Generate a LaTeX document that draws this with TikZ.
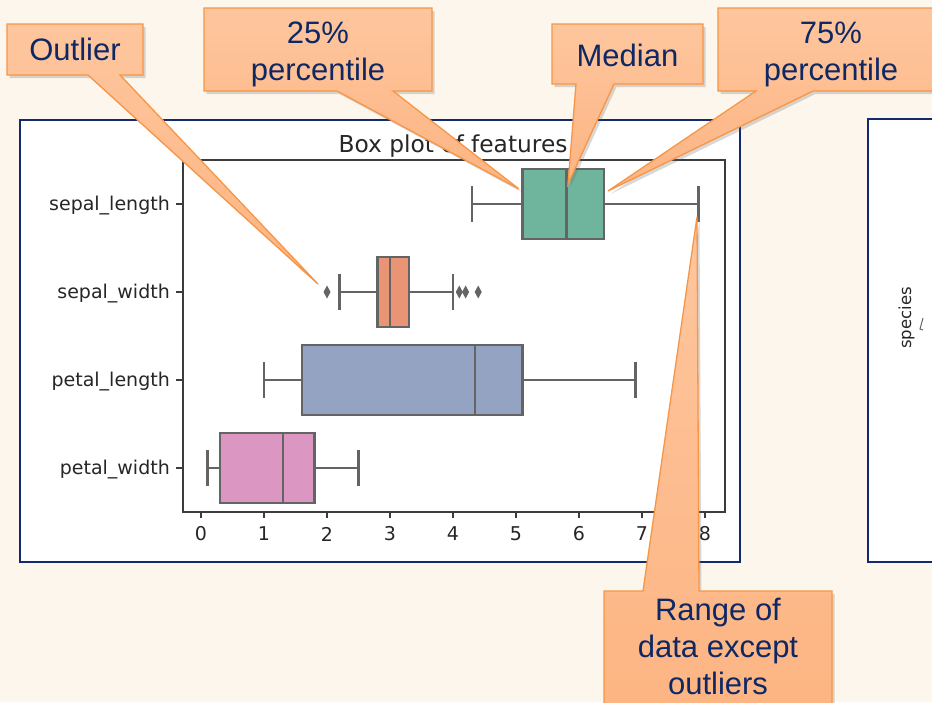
\documentclass[tikz,border=0pt]{standalone}
\usepackage{fontspec}
\setmainfont{Liberation Sans}
\newfontfamily\plotfont{DejaVu Sans}
\usetikzlibrary{shadows}
\definecolor{cream}{RGB}{253,246,236}
\definecolor{panelblue}{RGB}{20,42,110}
\definecolor{calltop}{RGB}{254,198,158}
\definecolor{callbottom}{RGB}{253,180,130}
\definecolor{calloutline}{RGB}{247,150,70}
\definecolor{callouttext}{RGB}{14,40,100}
\definecolor{boxline}{RGB}{100,100,100}
\definecolor{axisgray}{RGB}{60,60,60}
\definecolor{setgreen}{RGB}{111,181,158}
\definecolor{setorange}{RGB}{233,149,117}
\definecolor{setblue}{RGB}{149,163,195}
\definecolor{setpink}{RGB}{219,150,193}

\begin{document}
\begin{tikzpicture}[x=1pt, y=-1pt,
    panel/.style={draw=panelblue, line width=1.6pt, fill=white},
    calloutshape/.style={draw=calloutline, line width=1.3pt, line join=miter,
      top color=calltop, bottom color=callbottom,
      drop shadow={shadow xshift=2.5pt, shadow yshift=-3pt, opacity=0.25, fill=black!60}},
    calltext/.style={text=callouttext, font=\fontsize{31}{37}\selectfont, align=center, inner sep=0pt},
    bline/.style={draw=boxline, line width=2.5pt},
    axline/.style={draw=axisgray, line width=1.1pt},
    ticklab/.style={font=\plotfont\fontsize{19}{22}\selectfont, text=black!85, inner sep=0pt},
  ]
  \useasboundingbox (0,0) rectangle (932,702);
  \clip (0,0) rectangle (932,702);
  \fill[cream] (0,0) rectangle (932,702);

  % panels
  \path[panel] (20,120) rectangle (740,562);
  \path[panel] (868,119) rectangle (950,562);
  \node[ticklab, font=\plotfont\fontsize{16.5}{20}\selectfont, rotate=90] (species) at (906.5,318) {species};
  \draw[boxline, line width=1pt] (923,318) -- (920,329) -- (923,330);

  % axes
  \draw[axline] (183,160) rectangle (725,512);
  \node[ticklab, font=\plotfont\fontsize{23.3}{26}\selectfont, anchor=base] (title) at (453,152) {Box plot of features};
  \foreach \yy/\lab [count=\i] in {204/sepal\_length, 292/sepal\_width, 380/petal\_length, 468/petal\_width}{
    \draw[axline] (176,\yy) -- (183,\yy);
    \node[ticklab, anchor=east] (ylab\i) at (170,\yy+2) {\lab};
  }

  \begin{scope}[x=63pt, xshift=201pt]
    \foreach \t in {0,...,8}{
      \draw[axline] (\t,512) -- (\t,518);
      \node[ticklab] (xlab\t) at (\t,534) {\t};
    }
    % boxes
    \foreach \yy/\lo/\qa/\md/\qc/\hi/\col in {204/4.3/5.1/5.8/6.4/7.9/setgreen,
        292/2.2/2.8/3.0/3.3/4.0/setorange, 380/1.0/1.6/4.35/5.1/6.9/setblue,
        468/0.1/0.3/1.3/1.8/2.5/setpink}{
      \draw[bline] (\lo,\yy) -- (\qa,\yy) (\qc,\yy) -- (\hi,\yy);
      \draw[bline] (\lo,\yy-18) -- (\lo,\yy+18) (\hi,\yy-18) -- (\hi,\yy+18);
      \filldraw[bline, fill=\col] (\qa,\yy-35) rectangle (\qc,\yy+35);
      \draw[bline] (\md,\yy-35) -- (\md,\yy+35);
    }
    % outliers
    \foreach \o in {2.0,4.1,4.2,4.4}
      \fill[boxline] (\o,292) +(-3.5pt,0pt) -- +(0pt,6.5pt) -- +(3.5pt,0pt) -- +(0pt,-6.5pt) -- cycle;
  \end{scope}

  % Outlier
  \coordinate (outtip) at (318,284);
  \path[calloutshape] (7,24) -- (143,24) -- (143,75) -- (120,75) -- (outtip) -- (88,75) -- (7,75) -- cycle;
  \node[calltext] (outlier) at (75,49.5) {Outlier};

  % 25% percentile
  \coordinate (qonetip) at (519,189);
  \path[calloutshape] (204,8) -- (432,8) -- (432,91) -- (393,91) -- (qonetip) -- (337,91) -- (204,91) -- cycle;
  \node[calltext] (qone) at (318,54) {25\%\\percentile};

  % Median
  \coordinate (medtip) at (568,184);
  \path[calloutshape] (552,24) -- (703,24) -- (703,84) -- (614,84) -- (medtip) -- (576,84) -- (552,84) -- cycle;
  \node[calltext] (median) at (627.5,55) {Median};

  % 75% percentile
  \coordinate (qthreetip) at (608,191);
  \path[calloutshape] (718,8) -- (944,8) -- (944,91) -- (813,91) -- (qthreetip) -- (756,91) -- (718,91) -- cycle;
  \node[calltext] (qthree) at (831,54) {75\%\\percentile};

  % Range
  \coordinate (rangetip) at (697,217);
  \path[calloutshape] (604,591) -- (643,591) -- (rangetip) -- (699,591) -- (832,591) -- (832,720) -- (604,720) -- cycle;
  \node[calltext] (range) at (718,646) {Range of\\data except\\outliers};
\end{tikzpicture}
\end{document}
